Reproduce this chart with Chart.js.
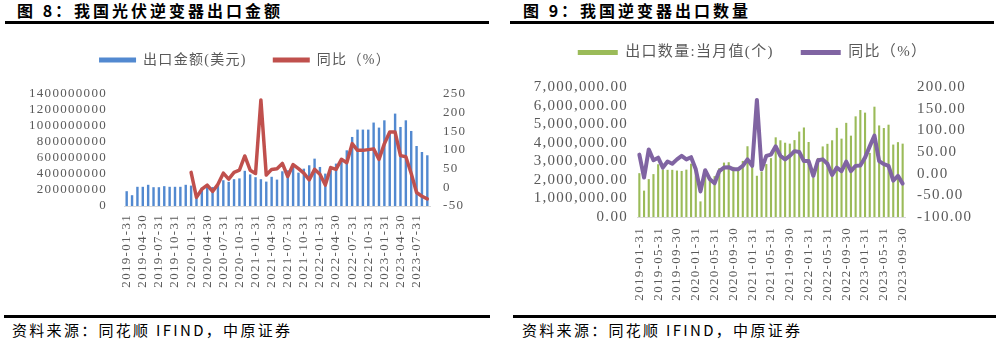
<!DOCTYPE html>
<html>
<head>
<meta charset="utf-8">
<script src="https://cdn.jsdelivr.net/npm/chart.js@4.4.1/dist/chart.umd.min.js"></script>
<style>
  html, body { margin: 0; padding: 0; background: #fff; }
  body { width: 1000px; height: 342px; position: relative; overflow: hidden; }
  .title { position: absolute; top: 0; font: bold 16px 'Noto Sans CJK SC', sans-serif; letter-spacing: 3px; color: #000; line-height: 20px; white-space: nowrap; }
  .rule { position: absolute; height: 3px; background: #000; }
  .source { position: absolute; top: 321px; font: 15px 'Noto Sans CJK SC', sans-serif; letter-spacing: 2.3px; color: #000; line-height: 18px; white-space: nowrap; }
  canvas { position: absolute; top: 0; }
</style>
</head>
<body>
<div class="title" style="left:17px">图 8：我国光伏逆变器出口金额</div>
<div class="title" style="left:523px">图 9：我国逆变器出口数量</div>
<div class="rule" style="left:5px; width:484px; top:21px"></div>
<div class="rule" style="left:510px; width:484px; top:21px"></div>
<div class="rule" style="left:4px; width:486px; top:315px"></div>
<div class="rule" style="left:513px; width:483px; top:315px"></div>
<div class="source" style="left:12px">资料来源：同花顺 IFIND，中原证券</div>
<div class="source" style="left:522px">资料来源：同花顺 IFIND，中原证券</div>

<canvas id="valueChart" width="490" height="313" style="left:0"></canvas>
<canvas id="qtyChart" width="495" height="313" style="left:505px"></canvas>

<script>
// month-end dates, 2019-01 .. 2023-09
const months = [];
for (let y = 2019; y <= 2023; y++) {
    for (let m = 1; m <= 12; m++) {
        if (y === 2023 && m > 9) break;
        const last = new Date(Date.UTC(y, m, 0)).getUTCDate();
        months.push(`${y}-${String(m).padStart(2, '0')}-${last}`);
    }
}

// PV inverter exports, USD
const exportValue = [
    185e6, 135e6, 240e6, 240e6, 265e6, 235e6, 235e6, 248e6, 240e6, 240e6, 240e6, 265e6,
    255e6, 100e6, 228e6, 252e6, 238e6, 255e6, 322e6, 302e6, 335e6, 345e6, 440e6, 395e6,
    360e6, 335e6, 305e6, 365e6, 330e6, 434e6, 446e6, 488e6, 417e6, 467e6, 509e6, 592e6,
    488e6, 405e6, 446e6, 530e6, 584e6, 696e6, 863e6, 955e6, 955e6, 955e6, 1043e6, 980e6,
    1071e6, 913e6, 1155e6, 988e6, 1071e6, 938e6, 750e6, 675e6, 634e6
];
// year-on-year, %
const exportValueYoY = [
    null, null, null, null, null, null, null, null, null, null, null, null,
    40, -27, -5, 6, -11, 8, 38, 22, 40, 46, 84, 46,
    37, 234, 33, 48, 50, 64, 29, 61, 50, 38, 20, 48,
    35, 6, 53, 48, 75, 66, 117, 99, 99, 101, 103, 75,
    117, 148, 148, 85, 82, 37, -14, -24, -31
];

// inverter exports, units per month
const exportQty = [
    2360000, 1420000, 2040000, 2310000, 2840000, 2560000, 2540000, 2540000, 2500000, 2480000, 2550000, 2870000,
    2600000, 840000, 2200000, 2000000, 2200000, 2630000, 2930000, 2950000, 2700000, 2650000, 3020000, 3810000,
    3070000, 2220000, 2450000, 2850000, 3170000, 4290000, 4130000, 4000000, 3950000, 4140000, 4600000, 4820000,
    4040000, 2120000, 3180000, 3800000, 3940000, 4130000, 4800000, 4220000, 5070000, 4380000, 5420000, 5760000,
    5620000, 3450000, 5940000, 4930000, 4790000, 4970000, 3900000, 4030000, 3950000
];
const exportQtyYoY = [
    44, -9, 56, 31, 37, 14, 28, 23, 33, 41, 33, 38,
    10, -41, 8, -13, -22, 6, 14, 15, 10, 10, 18, 33,
    18, 170, 10, 41, 44, 63, 41, 33, 41, 52, 50, 29,
    29, -5, 31, 33, 23, -3, 14, 6, 28, 6, 18, 19,
    37, 63, 88, 29, 22, 18, -16, -5, -23
];

const textGray = '#595959';
const serif = "'Liberation Serif', 'Noto Sans CJK SC', serif";

// push the plot down below the legend
const legendGap = {
    id: 'legendGap',
    beforeInit(chart, args, opts) {
        const fit = chart.legend.fit;
        chart.legend.fit = function () {
            fit.call(this);
            this.height += opts.gap;
        };
    }
};

// loose, Song-style spacing for all canvas text
const letterSpacing = {
    id: 'letterSpacing',
    beforeUpdate(chart, args, opts) { chart.ctx.letterSpacing = opts.px + 'px'; },
    beforeDraw(chart, args, opts) { chart.ctx.letterSpacing = opts.px + 'px'; }
};

const fixWidth = w => scale => { scale.width = w; };
const fixHeight = h => scale => { scale.height = h; };

function legendOptions(boxWidth, size, padding) {
    return {
        position: 'top',
        labels: {
            boxWidth: boxWidth,
            boxHeight: 5,
            padding: padding,
            color: textGray,
            font: { family: serif, size: size },
            sort: (a, b) => a.datasetIndex - b.datasetIndex,
            generateLabels(chart) {
                return Chart.defaults.plugins.legend.labels.generateLabels(chart).map(item => {
                    item.fillStyle = item.datasetIndex === 1 ? item.strokeStyle : item.fillStyle;
                    item.lineWidth = 0;
                    return item;
                });
            }
        }
    };
}

function xAxis(step, size, pad, height) {
    return {
        grid: { display: false, drawTicks: false },
        border: { display: true, color: '#d9d9d9', width: 1 },
        ticks: {
            autoSkip: false,
            minRotation: 90,
            maxRotation: 90,
            padding: pad,
            color: textGray,
            font: { family: serif, size: size },
            callback(value, index) {
                return index % step === 0 ? this.getLabelForValue(value) : null;
            }
        },
        afterFit: fixHeight(height)
    };
}

function yAxis(position, min, max, step, size, pad, width, format) {
    return {
        position: position,
        min: min,
        max: max,
        grid: { display: false, drawTicks: false },
        border: { display: false },
        ticks: {
            autoSkip: false,
            stepSize: step,
            padding: pad,
            color: textGray,
            font: { family: serif, size: size },
            callback: format
        },
        afterFit: fixWidth(width)
    };
}

new Chart(document.getElementById('valueChart'), {
    type: 'bar',
    data: {
        labels: months,
        datasets: [{
            label: '出口金额(美元)',
            data: exportValue,
            backgroundColor: '#5289d0',
            categoryPercentage: 1,
            barPercentage: 0.45,
            yAxisID: 'y',
            order: 1
        }, {
            type: 'line',
            label: '同比（%）',
            data: exportValueYoY,
            borderColor: '#c0504d',
            backgroundColor: '#c0504d',
            borderWidth: 3.5,
            pointRadius: 0,
            tension: 0,
            borderJoinStyle: 'round',
            borderCapStyle: 'round',
            yAxisID: 'y1',
            order: 0
        }]
    },
    options: {
        responsive: false,
        animation: false,
        layout: { padding: { top: 27, left: 0, right: 0, bottom: 0 } },
        plugins: {
            legend: legendOptions(37, 14, 26),
            legendGap: { gap: 17 },
            letterSpacing: { px: 1.3 },
            tooltip: { enabled: false }
        },
        scales: {
            x: xAxis(3, 13, 8, 107),
            y: yAxis('left', 0, 1400000000, 200000000, 13, 17, 124, v => String(v)),
            y1: yAxis('right', -50, 250, 50, 13, 13, 60, v => String(v))
        }
    },
    plugins: [legendGap, letterSpacing]
});

new Chart(document.getElementById('qtyChart'), {
    type: 'bar',
    data: {
        labels: months,
        datasets: [{
            label: '出口数量:当月值(个)',
            data: exportQty,
            backgroundColor: '#9bbb59',
            categoryPercentage: 1,
            barPercentage: 0.45,
            yAxisID: 'y',
            order: 1
        }, {
            type: 'line',
            label: '同比（%）',
            data: exportQtyYoY,
            borderColor: '#8064a2',
            backgroundColor: '#8064a2',
            borderWidth: 4,
            pointRadius: 0,
            tension: 0,
            borderJoinStyle: 'round',
            borderCapStyle: 'round',
            yAxisID: 'y1',
            order: 0
        }]
    },
    options: {
        responsive: false,
        animation: false,
        layout: { padding: { top: 18, left: 0, right: 0, bottom: 0 } },
        plugins: {
            legend: legendOptions(40, 15, 27),
            legendGap: { gap: 17 },
            letterSpacing: { px: 1.3 },
            tooltip: { enabled: false }
        },
        scales: {
            x: xAxis(4, 13, 10, 96),
            y: yAxis('left', 0, 7000000, 1000000, 15, 9, 132,
                v => v.toLocaleString('en-US', { minimumFractionDigits: 2, maximumFractionDigits: 2 })),
            y1: yAxis('right', -100, 200, 50, 15, 12, 95, v => v.toFixed(2))
        }
    },
    plugins: [legendGap, letterSpacing]
});
</script>
</body>
</html>
